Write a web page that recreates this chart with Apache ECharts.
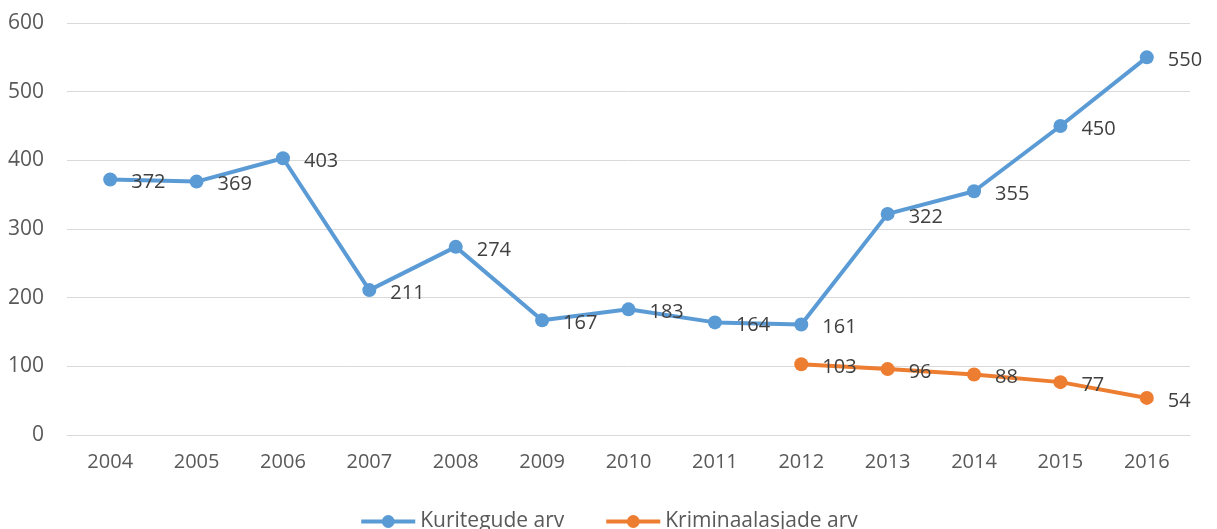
<!DOCTYPE html>
<html>
<head>
<meta charset="utf-8">
<script src="https://cdn.jsdelivr.net/npm/echarts@6/dist/echarts.min.js"></script>
<style>
  html, body { margin: 0; padding: 0; background: #fff; }
  #chart { width: 1217px; height: 529px; }
</style>
</head>
<body>
<div id="chart"></div>
<script>
// Andmed
const years = ['2004', '2005', '2006', '2007', '2008', '2009', '2010', '2011', '2012', '2013', '2014', '2015', '2016'];
const kuriteod = [372, 369, 403, 211, 274, 167, 183, 164, 161, 322, 355, 450, 550];
const kriminaalasjad = [null, null, null, null, null, null, null, null, 103, 96, 88, 77, 54];

const font = 'Open Sans, Liberation Sans, sans-serif';

document.addEventListener('DOMContentLoaded', function() {
  const chart = echarts.init(document.getElementById('chart'));

  const label = {
    show: true,
    position: 'right',
    distance: 14,
    offset: [0, 3],
    color: '#404040',
    fontSize: 20,
    fontFamily: font
  };

  chart.setOption({
    animation: false,
    grid: { left: 67, right: 27, top: 23, bottom: 94 },
    legend: {
      bottom: -8,
      left: 'center',
      itemWidth: 54,
      itemHeight: 16,
      itemGap: 40,
      lineStyle: { width: 4 },
      textStyle: { color: '#595959', fontSize: 21, fontFamily: font },
      data: ['Kuritegude arv', 'Kriminaalasjade arv']
    },
    xAxis: {
      type: 'category',
      data: years,
      axisLine: { lineStyle: { color: '#d9d9d9', width: 1 } },
      axisTick: { show: false },
      axisLabel: { color: '#595959', fontSize: 20, fontFamily: font, margin: 17 }
    },
    yAxis: {
      type: 'value',
      min: 0,
      max: 600,
      interval: 100,
      axisLine: { show: false },
      axisTick: { show: false },
      splitLine: { lineStyle: { color: '#d9d9d9', width: 1 } },
      axisLabel: { color: '#595959', fontSize: 21, fontFamily: font, margin: 23 }
    },
    series: [
      {
        name: 'Kuritegude arv',
        type: 'line',
        data: kuriteod,
        color: '#5b9bd5',
        symbol: 'circle',
        symbolSize: 14,
        lineStyle: { width: 4 },
        label: label
      },
      {
        name: 'Kriminaalasjade arv',
        type: 'line',
        data: kriminaalasjad,
        color: '#ed7d31',
        symbol: 'circle',
        symbolSize: 14,
        lineStyle: { width: 4 },
        label: label
      }
    ]
  });
});
</script>
</body>
</html>
